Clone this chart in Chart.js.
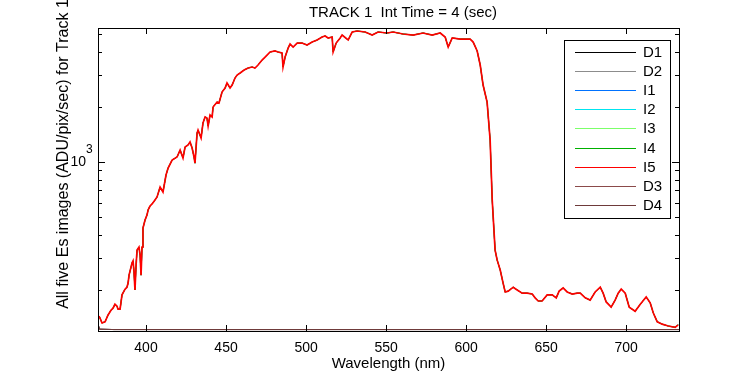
<!DOCTYPE html>
<html>
<head>
<meta charset="utf-8">
<title>TRACK 1 Int Time = 4 (sec)</title>
<script src="https://cdn.jsdelivr.net/npm/chart.js@4.4.1/dist/chart.umd.min.js"></script>
<style>
  html, body { margin: 0; padding: 0; background: #fff; }
  #wrap { width: 750px; height: 375px; }
</style>
</head>
<body>
<div id="wrap"><canvas id="es" width="750" height="375"></canvas></div>
<script>
// Es spectra, track 1
const wavelength = [
  370.6, 371.3, 372.5, 374.4, 376.3, 378.1, 379.4, 380.6, 381.9, 382.5,
  383.8, 385.0, 386.9, 388.1, 388.8, 389.4, 391.3, 391.9, 392.5, 393.1,
  393.8, 394.4, 395.6, 396.3, 396.9, 397.5, 398.1, 399.4, 400.6, 401.3,
  402.5, 403.8, 405.6, 406.9, 408.8, 410.6, 412.5, 413.8, 416.3, 419.4,
  421.3, 423.1, 424.4, 426.3, 427.5, 428.8, 430.0, 430.6, 431.9, 432.5,
  434.4, 435.6, 436.9, 438.1, 438.8, 440.0, 441.3, 441.9, 444.4, 445.6,
  447.5, 449.4, 450.6, 452.5, 453.8, 455.6, 456.9, 458.8, 461.3, 463.8,
  466.3, 468.1, 470.0, 472.5, 474.4, 477.5, 480.6, 482.5, 485.0, 485.6,
  486.9, 488.8, 490.0, 491.9, 494.4, 497.5, 500.6, 503.8, 506.9, 510.0,
  511.9, 513.8, 516.3, 516.9, 518.8, 521.3, 522.5, 526.3, 528.8, 531.9,
  536.9, 541.3, 545.0, 550.6, 554.4, 560.6, 566.9, 573.1, 578.8, 583.8,
  586.9, 588.8, 591.3, 596.3, 602.5, 604.4, 606.9, 608.8, 610.6, 613.1,
  615.0, 616.3, 618.1, 619.4, 621.3, 623.1, 624.4, 626.3, 629.4, 631.9,
  635.0, 638.1, 641.3, 643.1, 645.0, 647.5, 650.6, 653.8, 656.3, 658.1,
  660.6, 663.1, 666.3, 669.4, 671.3, 674.4, 677.5, 680.6, 683.8, 685.6,
  687.5, 690.6, 693.1, 695.0, 696.9, 699.4, 701.9, 705.6, 708.8, 712.5,
  715.0, 716.9, 719.4, 722.5, 726.3, 730.6, 732.5
];

const lightCounts = [
  144, 140, 132, 134, 146, 155, 159, 167, 163, 157,
  157, 188, 202, 207, 218, 241, 281, 288, 251, 200,
  274, 330, 343, 310, 241, 343, 436, 482, 513, 547,
  575, 590, 620, 644, 730, 686, 849, 927, 1025, 1065,
  1163, 1052, 1208, 1239, 1286, 1193, 1065, 987, 1440, 1496,
  1353, 1634, 1762, 1740, 1573, 1806, 1762, 1998, 2128, 2101,
  2413, 2537, 2702, 2537, 2635, 2877, 2988, 3064, 3183, 3264,
  3305, 3264, 3389, 3609, 3748, 3992, 4043, 3992, 3941, 3305,
  3748, 4198, 4413, 4250, 4469, 4469, 4358, 4526, 4642, 4822,
  4883, 4761, 4822, 3992, 4469, 4761, 4943, 4642, 5134, 5199,
  5134, 4943, 5134, 5070, 5134, 5006, 4943, 5070, 4943, 5070,
  4822, 4250, 4761, 4700, 4700, 4526, 4043, 3389, 2635, 2128,
  1319, 620, 330, 291, 257, 218, 195, 197, 207, 200,
  192, 192, 190, 181, 174, 174, 188, 188, 181, 197,
  205, 195, 190, 192, 192, 181, 176, 195, 207, 192,
  172, 161, 176, 192, 202, 192, 161, 153, 167, 183,
  170, 150, 134, 130, 127, 125, 129
];

// dark frames sit on the floor of the axis
const darkWavelength = [370.2, 371.0, 380, 450, 550, 650, 733];
const darkCounts     = [128, 122, 121.5, 121.5, 121.5, 121.5, 121.5];

const seriesNames  = ['D1', 'D2', 'I1', 'I2', 'I3', 'I4', 'I5', 'D3', 'D4'];
const seriesColors = ['#000000', '#8c8c8c', '#0072ff', '#00e5f0', '#7cff6a', '#00b000', '#ff0000', '#8b4a4a', '#6e3a3a'];

const xTicks = [400, 450, 500, 550, 600, 650, 700];
const yTicks = [200, 300, 400, 500, 600, 700, 800, 900, 1000, 2000, 3000, 4000, 5000];
const xRange = [370, 733];
const yRange = [119.3, 5400];

const toPoints = (xs, ys) => xs.map((x, i) => ({ x, y: ys[i] }));

const FONT = "'Liberation Sans', Arial, sans-serif";

const datasets = seriesNames.map((name, i) => {
  const dark = name[0] === 'D';
  return {
    label: name,
    data: dark ? toPoints(darkWavelength, darkCounts) : toPoints(wavelength, lightCounts),
    borderColor: seriesColors[i],
    borderWidth: name === 'I5' ? 1.7 : 1,
    pointRadius: 0,
    tension: 0,
    // matlab draws later lines on top
    order: seriesNames.length - i,
  };
});

const matlabAxes = {
  id: 'matlabAxes',
  afterDraw(chart) {
    const { ctx, chartArea: a, scales: { x, y } } = chart;
    ctx.save();
    ctx.strokeStyle = '#000';
    ctx.lineWidth = 1;
    ctx.strokeRect(Math.round(a.left) + 0.5, Math.round(a.top) + 0.5,
                   Math.round(a.right - a.left), Math.round(a.bottom - a.top));

    ctx.beginPath();
    xTicks.forEach(v => {
      const px = Math.round(x.getPixelForValue(v)) + 0.5;
      ctx.moveTo(px, a.bottom); ctx.lineTo(px, a.bottom - 6);
      ctx.moveTo(px, a.top);    ctx.lineTo(px, a.top + 6);
    });
    yTicks.forEach(v => {
      const py = Math.round(y.getPixelForValue(v)) + 0.5;
      const len = v === 1000 ? 7 : 4;
      ctx.moveTo(a.left, py);  ctx.lineTo(a.left + len, py);
      ctx.moveTo(a.right, py); ctx.lineTo(a.right - len, py);
    });
    ctx.stroke();

    ctx.fillStyle = '#000';
    ctx.font = '14px ' + FONT;
    ctx.textAlign = 'center';
    ctx.textBaseline = 'middle';
    xTicks.forEach(v => ctx.fillText(String(v), x.getPixelForValue(v), 348));

    // 10^3 label
    const p3 = y.getPixelForValue(1000);
    ctx.textAlign = 'right';
    ctx.fillText('10', 86, p3);
    ctx.font = '12px ' + FONT;
    ctx.textAlign = 'left';
    ctx.fillText('3', 86, p3 - 12);

    ctx.font = '15px ' + FONT;
    ctx.textAlign = 'center';
    ctx.fillText('Wavelength (nm)', (a.left + a.right) / 2, 364);
    ctx.fillText('TRACK 1  Int Time = 4 (sec)', 403, 13);

    ctx.save();
    ctx.font = '16px ' + FONT;
    ctx.translate(64, 154);
    ctx.rotate(-Math.PI / 2);
    ctx.fillText('All five Es images (ADU/pix/sec) for Track 1', 0, 0);
    ctx.restore();

    // legend box
    const lx = 564, ly = 40, lw = 106, lh = 178;
    ctx.fillStyle = '#fff';
    ctx.fillRect(lx, ly, lw, lh);
    ctx.strokeRect(lx + 0.5, ly + 0.5, lw, lh);
    ctx.font = '15px ' + FONT;
    ctx.textAlign = 'left';
    seriesNames.forEach((name, i) => {
      const ry = Math.round(52 + i * 19.1) + 0.5;
      ctx.strokeStyle = seriesColors[i];
      ctx.beginPath();
      ctx.moveTo(575, ry); ctx.lineTo(636, ry);
      ctx.stroke();
      ctx.fillStyle = '#000';
      ctx.fillText(name, 643, ry);
    });
    ctx.restore();
  }
};

new Chart(document.getElementById('es'), {
  type: 'line',
  data: { datasets },
  options: {
    responsive: false,
    animation: false,
    layout: { padding: { left: 98, top: 28, right: 71, bottom: 44 } },
    plugins: { legend: { display: false }, tooltip: { enabled: false } },
    scales: {
      x: { type: 'linear', display: false, min: xRange[0], max: xRange[1] },
      y: { type: 'logarithmic', display: false, min: yRange[0], max: yRange[1] }
    }
  },
  plugins: [matlabAxes]
});
</script>
</body>
</html>
